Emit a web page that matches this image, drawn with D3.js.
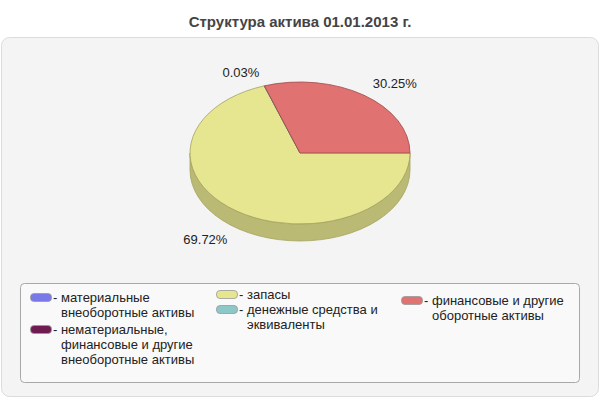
<!DOCTYPE html>
<html>
<head>
<meta charset="utf-8">
<script src="https://cdn.jsdelivr.net/npm/d3@7"></script>
<style>
  body { margin: 0; background: #fff; }
  svg text { font-family: "Liberation Sans", Arial, sans-serif; fill: #222; }
</style>
</head>
<body>
<script>
// data
var categories = [
  "материальные внеоборотные активы",
  "нематериальные, финансовые и другие внеоборотные активы",
  "запасы",
  "денежные средства и эквиваленты",
  "финансовые и другие оборотные активы"
];
var values = [0, 0, 69.72, 0.03, 30.25];
var colors = ["#7878e8", "#701a52", "#e6e590", "#8cc8c8", "#e07272"];
var sideColors = ["#5a5ab0", "#50123a", "#bbba75", "#6a9a9a", "#b05858"];
var edgeColors = ["#5050a0", "#400e30", "#a3a260", "#5a8a8a", "#a04848"];
// legend wrapped lines, per item
var legendLines = [
  ["- материальные", "внеоборотные активы"],
  ["- нематериальные,", "финансовые и другие", "внеоборотные активы"],
  ["- запасы"],
  ["- денежные средства и", "эквиваленты"],
  ["- финансовые и другие", "оборотные активы"]
];

var W = 600, H = 400;
var svg = d3.select("body").append("svg")
  .attr("width", W).attr("height", H);

// title
svg.append("text")
  .attr("x", 300).attr("y", 27)
  .attr("text-anchor", "middle")
  .style("font-size", "15px")
  .style("font-weight", "bold")
  .style("fill", "#444")
  .text("Структура актива 01.01.2013 г.");

// panel
svg.append("rect")
  .attr("x", 1.5).attr("y", 37.5)
  .attr("width", 597).attr("height", 359)
  .attr("rx", 8)
  .style("fill", "#f4f4f4")
  .style("stroke", "#dcdcdc");

// pie
var cx = 300, cy = 153, rx = 110, ry = 71, depth = 17;

var pie = d3.pie().sort(null)
  .startAngle(Math.PI / 2)
  .endAngle(Math.PI / 2 + 2 * Math.PI);
var arcs = pie(values);

function pt(a, dy) {
  return [cx + rx * Math.sin(a), cy - ry * Math.cos(a) + (dy || 0)];
}

// side walls, front half only (angles between PI/2 and 3PI/2)
function sidePath(a0, a1) {
  var p0 = pt(a0), p1 = pt(a1), q1 = pt(a1, depth), q0 = pt(a0, depth);
  var large = (a1 - a0) > Math.PI ? 1 : 0;
  return "M" + p0 + "A" + rx + "," + ry + " 0 " + large + " 1 " + p1 +
    "L" + q1 + "A" + rx + "," + ry + " 0 " + large + " 0 " + q0 + "Z";
}

var sides = svg.append("g").attr("class", "sides");
arcs.forEach(function(d, i) {
  if (d.value <= 0) return;
  var a0 = Math.max(d.startAngle, Math.PI / 2);
  var a1 = Math.min(d.endAngle, 3 * Math.PI / 2);
  if (a1 > a0) {
    sides.append("path")
      .attr("d", sidePath(a0, a1))
      .style("fill", sideColors[i])
      .style("stroke", edgeColors[i])
      .style("stroke-width", 0.8);
  }
});

// top faces: d3.arc squashed into an ellipse
var arc = d3.arc().innerRadius(0).outerRadius(rx);
svg.append("g")
  .attr("transform", "translate(" + cx + "," + cy + ") scale(1," + (ry / rx) + ")")
  .selectAll("path")
  .data(arcs.filter(function(d) { return d.value > 0; }))
  .enter()
  .append("path")
  .attr("d", arc)
  .style("fill", function(d) { return colors[d.index]; })
  .style("stroke", function(d) { return edgeColors[d.index]; })
  .style("stroke-width", 0.8)
  .attr("vector-effect", "non-scaling-stroke");

// labels
var lrx = 125, lry = 85;
svg.append("g")
  .selectAll("text")
  .data(arcs.filter(function(d) { return d.value > 0; }))
  .enter()
  .append("text")
  .each(function(d) {
    var a = (d.startAngle + d.endAngle) / 2;
    var x = cx + lrx * Math.sin(a);
    var y = cy - lry * Math.cos(a);
    if (Math.cos(a) < 0) y += depth;
    d3.select(this)
      .attr("x", x).attr("y", y)
      .attr("dy", "0.35em")
      .attr("text-anchor", Math.sin(a) >= 0 ? "start" : "end");
  })
  .style("font-size", "13px")
  .text(function(d) { return d3.format(".2f")(d.value) + "%"; });

// legend
svg.append("rect")
  .attr("x", 20.5).attr("y", 283.5)
  .attr("width", 559).attr("height", 99)
  .attr("rx", 4)
  .style("fill", "#f9f9f9")
  .style("stroke", "#a8a8a8");

var legendPos = [
  {x: 30, y: 302}, {x: 30, y: 334},
  {x: 216, y: 299}, {x: 216, y: 314},
  {x: 401, y: 305}
];
var lineH = 15;

var items = svg.append("g").attr("class", "legend")
  .selectAll("g")
  .data(categories)
  .enter()
  .append("g")
  .attr("transform", function(d, i) {
    return "translate(" + legendPos[i].x + "," + legendPos[i].y + ")";
  });

items.append("rect")
  .attr("x", 0.5).attr("y", -8.5)
  .attr("width", 21).attr("height", 8)
  .attr("rx", 3.5)
  .style("fill", function(d, i) { return colors[i]; })
  .style("stroke", "#999")
  .style("stroke-width", 0.8);

items.each(function(d, i) {
  var g = d3.select(this);
  legendLines[i].forEach(function(line, j) {
    g.append("text")
      .attr("x", j == 0 ? 23 : 31)
      .attr("y", j * lineH)
      .style("font-size", "13px")
      .text(line);
  });
});
</script>
</body>
</html>
